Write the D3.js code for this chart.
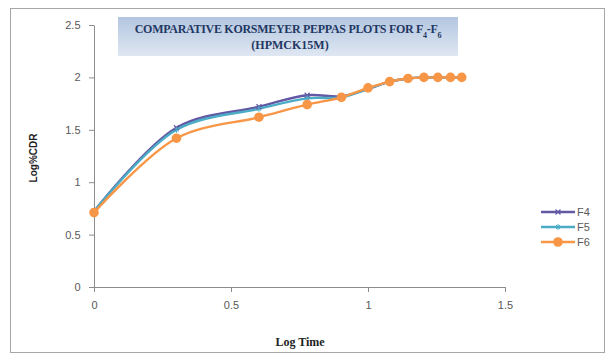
<!DOCTYPE html>
<html>
<head>
<meta charset="utf-8">
<script src="https://cdn.jsdelivr.net/npm/d3@7"></script>
<style>
  html, body { margin: 0; padding: 0; background: #fff; }
  svg { display: block; }
</style>
</head>
<body>
<svg id="chart" width="609" height="355"></svg>
<script>
// Log of sampling time (hours 1..22)
const logTime = [0, 0.301, 0.602, 0.778, 0.903, 1.0, 1.079, 1.146, 1.204, 1.255, 1.301, 1.342];
// Log % cumulative drug release per formulation
const f4 = [0.72, 1.52, 1.72, 1.83, 1.82, 1.89, 1.96, 1.99, 2.0, 2.0, 2.0, 2.0];
const f5 = [0.72, 1.50, 1.70, 1.80, 1.81, 1.89, 1.96, 1.99, 2.0, 2.0, 2.0, 2.0];
const f6 = [0.71, 1.42, 1.62, 1.74, 1.81, 1.90, 1.96, 1.99, 2.0, 2.0, 2.0, 2.0];
const seriesNames = ["F4", "F5", "F6"];
const xTicks = [0, 0.5, 1, 1.5];
const yTicks = [0, 0.5, 1, 1.5, 2, 2.5];

const svg = d3.select("#chart");
const colors = { F4: "#6258a4", F5: "#4bacc6", F6: "#f79646" };

// Outer chart frame
svg.append("rect").attr("x", 10.5).attr("y", 8.5).attr("width", 594).attr("height", 344)
  .attr("fill", "#fff").attr("stroke", "#a6a6a6").attr("stroke-width", 1);

const x = d3.scaleLinear().domain([0, 1.5]).range([94, 505]);
const y = d3.scaleLinear().domain([0, 2.5]).range([287, 25]);

// Axes
const xAxis = d3.axisBottom(x).tickValues(xTicks).tickFormat(d3.format("")).tickSize(5).tickSizeOuter(0);
const yAxis = d3.axisLeft(y).tickValues(yTicks).tickFormat(d3.format("")).tickSize(5).tickSizeOuter(0);

const gx = svg.append("g").attr("transform", `translate(0,${y(0)})`).call(xAxis);
const gy = svg.append("g").attr("transform", `translate(${x(0)},0)`).call(yAxis);
[gx, gy].forEach(g => {
  g.select(".domain").attr("stroke", "#8c8c8c");
  g.selectAll(".tick line").attr("stroke", "#8c8c8c");
  g.selectAll(".tick text").attr("fill", "#595959")
    .style("font-family", "'Liberation Sans', Arial, sans-serif").style("font-size", "11px");
});
gx.selectAll(".tick text").attr("dy", "1.3em");
gy.selectAll(".tick text").attr("dx", "-0.5em");

// Axis titles
svg.append("text").attr("x", 300).attr("y", 346).attr("text-anchor", "middle")
  .style("font-family", "'Liberation Serif', 'Times New Roman', serif")
  .style("font-weight", "bold").style("font-size", "12px").attr("fill", "#222")
  .text("Log Time");
svg.append("text").attr("transform", "translate(37,158) rotate(-90)").attr("text-anchor", "middle")
  .style("font-family", "'Liberation Sans', Arial, sans-serif")
  .style("font-weight", "bold").style("font-size", "10px").attr("fill", "#222")
  .text("Log%CDR");

// Title box with soft blue gradient
const defs = svg.append("defs");
const grad = defs.append("linearGradient").attr("id", "titleFill")
  .attr("x1", 0).attr("y1", 0).attr("x2", 0).attr("y2", 1);
grad.append("stop").attr("offset", "0%").attr("stop-color", "#b3c6e0");
grad.append("stop").attr("offset", "100%").attr("stop-color", "#dfe7f2");
svg.append("rect").attr("x", 118).attr("y", 17).attr("width", 340).attr("height", 39)
  .attr("fill", "url(#titleFill)");
const title = svg.append("text").attr("text-anchor", "middle")
  .style("font-family", "'Liberation Serif', 'Times New Roman', serif")
  .style("font-weight", "bold").style("font-size", "12px").attr("fill", "#1f3864");
const t1 = title.append("tspan").attr("x", 288).attr("y", 33).style("letter-spacing", "-0.3px");
t1.append("tspan").text("COMPARATIVE KORSMEYER PEPPAS PLOTS FOR  F");
t1.append("tspan").attr("baseline-shift", "sub").style("font-size", "8px").text("4");
t1.append("tspan").text("-F");
t1.append("tspan").attr("baseline-shift", "sub").style("font-size", "8px").text("6");
title.append("tspan").attr("x", 290).attr("y", 49).text("(HPMCK15M)");

// Series lines
const data = { F4: f4, F5: f5, F6: f6 };
const line = d3.line().x(d => x(d[0])).y(d => y(d[1])).curve(d3.curveCatmullRom.alpha(0.5));
seriesNames.forEach(name => {
  const pts = logTime.map((t, i) => [t, data[name][i]]);
  svg.append("path").datum(pts).attr("d", line).attr("fill", "none")
    .attr("stroke", colors[name]).attr("stroke-width", 2.4);
});

// Markers
const drawMarker = (g, name, cx, cy) => {
  if (name === "F6") {
    g.append("circle").attr("cx", cx).attr("cy", cy).attr("r", 4.8).attr("fill", colors.F6);
  } else if (name === "F4") {
    g.append("path").attr("d", `M${cx-2.5},${cy-2.5}L${cx+2.5},${cy+2.5}M${cx-2.5},${cy+2.5}L${cx+2.5},${cy-2.5}`)
      .attr("stroke", colors.F4).attr("stroke-width", 1.2);
  } else {
    g.append("path").attr("d", `M${cx-2},${cy-2}L${cx+2},${cy+2}M${cx-2},${cy+2}L${cx+2},${cy-2}M${cx},${cy-3}V${cy+3}`)
      .attr("stroke", colors.F5).attr("stroke-width", 1);
  }
};
const mg = svg.append("g");
seriesNames.forEach(name => {
  logTime.forEach((t, i) => drawMarker(mg, name, x(t), y(data[name][i])));
});

// Legend
const legY = d3.scalePoint().domain(seriesNames).range([212, 242]);
seriesNames.forEach(name => {
  const ly = legY(name);
  svg.append("line").attr("x1", 541).attr("x2", 575).attr("y1", ly).attr("y2", ly)
    .attr("stroke", colors[name]).attr("stroke-width", 2.4);
  drawMarker(svg, name, 558, ly);
  svg.append("text").attr("x", 577).attr("y", ly + 4)
    .style("font-family", "'Liberation Sans', Arial, sans-serif").style("font-size", "11px")
    .attr("fill", "#595959").text(name);
});
</script>
</body>
</html>
